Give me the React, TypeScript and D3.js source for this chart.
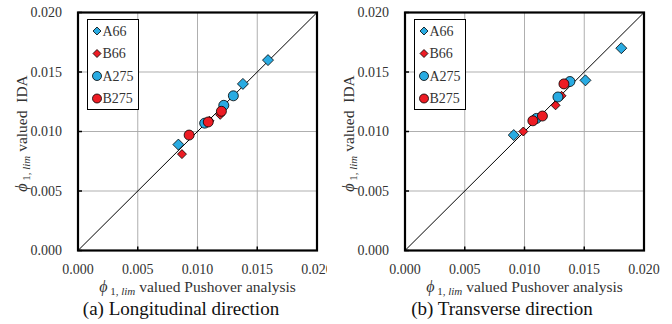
import React from 'react';
import * as d3 from 'd3';

// Values: [Pushover, IDA]
const longA66: [number, number][] = [[0.0159, 0.0160], [0.0138, 0.0140], [0.0084, 0.0089]];
const longB66: [number, number][] = [[0.0119, 0.0114], [0.0110, 0.0109], [0.0087, 0.0081]];
const longA275: [number, number][] = [[0.0130, 0.0130], [0.0122, 0.0122], [0.0106, 0.0107]];
const longB275: [number, number][] = [[0.0120, 0.0117], [0.0109, 0.0108], [0.0093, 0.0097]];

const transA66: [number, number][] = [[0.0181, 0.0170], [0.0151, 0.0143], [0.0091, 0.0097]];
const transB66: [number, number][] = [[0.0131, 0.0130], [0.0126, 0.0122], [0.0099, 0.0100]];
const transA275: [number, number][] = [[0.0138, 0.0142], [0.0128, 0.0129], [0.0110, 0.0111]];
const transB275: [number, number][] = [[0.0133, 0.0140], [0.0115, 0.0113], [0.0107, 0.0109]];

const ticks = [0, 0.005, 0.01, 0.015, 0.02];
const seriesNames = ['A66', 'B66', 'A275', 'B275'];

const BLUE = '#29ABE2';
const RED = '#ED1C24';
const FONT = '"Liberation Serif", "Times New Roman", serif';

type Pts = [number, number][];

function Marker({ kind, color, x, y, size }: { kind: string; color: string; x: number; y: number; size: number }) {
  if (kind === 'diamond') {
    const s = size;
    return (
      <path
        d={`M${x},${y - s}L${x + s},${y}L${x},${y + s}L${x - s},${y}Z`}
        fill={color}
        stroke="#000"
        strokeWidth={0.8}
      />
    );
  }
  return <circle cx={x} cy={y} r={size} fill={color} stroke="#000" strokeWidth={0.8} />;
}

function Panel(props: {
  left: number;
  captionX: number;
  caption: string;
  clipRight: number;
  id: string;
  a66: Pts;
  b66: Pts;
  a275: Pts;
  b275: Pts;
}) {
  const { left, captionX, caption, clipRight, id } = props;
  const top = 12.5;
  const bottom = 250.5;
  const x = d3.scaleLinear().domain([0, 0.02]).range([left, left + 239]);
  const y = d3.scaleLinear().domain([0, 0.02]).range([bottom, top]);
  const fmt = d3.format('.3f');
  const cx = left + 119.5;
  const ylabX = left - 51;
  const ycenter = (top + bottom) / 2 + 2;

  const groups = [
    { data: props.a66, kind: 'diamond', color: BLUE, size: 5.5 },
    { data: props.b66, kind: 'diamond', color: RED, size: 4.5 },
    { data: props.a275, kind: 'circle', color: BLUE, size: 5 },
    { data: props.b275, kind: 'circle', color: RED, size: 5 },
  ];

  const legendX = left + 9.5;
  const legendY = top + 7;
  const legendKinds = [
    { kind: 'diamond', color: BLUE, size: 4 },
    { kind: 'diamond', color: RED, size: 4 },
    { kind: 'circle', color: BLUE, size: 4.5 },
    { kind: 'circle', color: RED, size: 4.5 },
  ];

  return (
    <g>
      <defs>
        <clipPath id={id}>
          <rect x={0} y={0} width={clipRight} height={324} />
        </clipPath>
      </defs>
      <g clipPath={`url(#${id})`} fontFamily={FONT}>
        {/* grid */}
        {ticks.slice(1, -1).map((t) => (
          <g key={'g' + t}>
            <line x1={x(t)} x2={x(t)} y1={top} y2={bottom} stroke="#a6a6a6" strokeWidth={0.9} />
            <line x1={left} x2={left + 239} y1={y(t)} y2={y(t)} stroke="#a6a6a6" strokeWidth={0.9} />
          </g>
        ))}
        {/* diagonal */}
        <line x1={x(0)} y1={y(0)} x2={x(0.02)} y2={y(0.02)} stroke="#000" strokeWidth={1} />
        {/* ticks */}
        {ticks.map((t) => (
          <g key={'t' + t}>
            <line x1={left} x2={left + 4} y1={y(t)} y2={y(t)} stroke="#000" strokeWidth={1.5} />
            <line x1={x(t)} x2={x(t)} y1={bottom} y2={bottom - 4} stroke="#000" strokeWidth={1.5} />
            <text x={left - 16} y={y(t)} dy="0.35em" textAnchor="end" fontSize={14} fill="#333">
              {fmt(t)}
            </text>
            <text x={x(t)} y={bottom + 23} textAnchor="middle" fontSize={14} fill="#333">
              {fmt(t)}
            </text>
          </g>
        ))}
        {/* frame */}
        <rect x={left} y={top} width={239} height={bottom - top} fill="none" stroke="#000" strokeWidth={2.2} />
        {/* points */}
        {groups.map((g, gi) =>
          g.data.map((p, i) => (
            <Marker key={gi + '-' + i} kind={g.kind} color={g.color} x={x(p[0])} y={y(p[1])} size={g.size} />
          ))
        )}
        {/* legend */}
        <rect x={legendX} y={legendY} width={51} height={90} fill="#fff" stroke="#000" strokeWidth={1} />
        {seriesNames.map((name, i) => (
          <g key={name}>
            <Marker
              kind={legendKinds[i].kind}
              color={legendKinds[i].color}
              x={legendX + 9.5}
              y={legendY + 11.5 + i * 22.5}
              size={legendKinds[i].size}
            />
            <text x={legendX + 15} y={legendY + 11.5 + i * 22.5} dy="0.35em" fontSize={14} fill="#333">
              {name}
            </text>
          </g>
        ))}
        {/* x label */}
        <text x={cx} y={292} textAnchor="middle" fontSize={15.5} fill="#333">
          <tspan fontStyle="italic" fontSize={16}>ϕ</tspan>
          <tspan fontSize={11} dy={3}> 1, </tspan>
          <tspan fontSize={11} fontStyle="italic">lim</tspan>
          <tspan dy={-3}> valued Pushover analysis</tspan>
        </text>
        {/* caption */}
        <text x={captionX} y={315} textAnchor="middle" fontSize={19} fill="#111">
          {caption}
        </text>
      </g>
      {/* y label */}
      <text
        transform={`translate(${ylabX},${ycenter}) rotate(-90)`}
        textAnchor="middle"
        fontSize={15.5}
        fill="#333"
        fontFamily={FONT}
      >
        <tspan fontStyle="italic" fontSize={16}>ϕ</tspan>
        <tspan fontSize={11} dy={3}> 1, </tspan>
        <tspan fontSize={11} fontStyle="italic">lim</tspan>
        <tspan dy={-3}>{' valued\u00a0 IDA'}</tspan>
      </text>
    </g>
  );
}

export default function App() {
  return (
    <svg width={672} height={324} style={{ position: 'absolute', left: 0, top: 0, background: '#fff' }}>
      <rect width={672} height={324} fill="#fff" />
      <Panel
        id="clipA"
        left={78}
        captionX={181}
        caption="(a) Longitudinal direction"
        clipRight={327}
        a66={longA66}
        b66={longB66}
        a275={longA275}
        b275={longB275}
      />
      <Panel
        id="clipB"
        left={405}
        captionX={502}
        caption="(b) Transverse direction"
        clipRight={672}
        a66={transA66}
        b66={transB66}
        a275={transA275}
        b275={transB275}
      />
    </svg>
  );
}
